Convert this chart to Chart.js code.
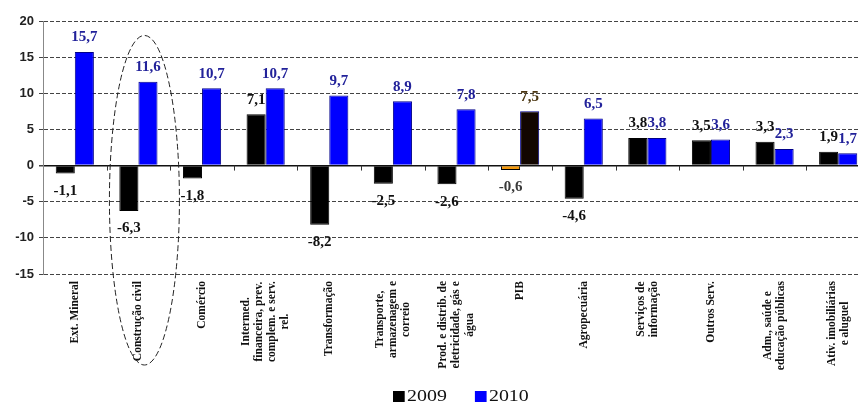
<!DOCTYPE html>
<html>
<head>
<meta charset="utf-8">
<script src="https://cdn.jsdelivr.net/npm/chart.js@4"></script>
<style>
  html, body { margin: 0; padding: 0; background: #fff; overflow: hidden; }
  #wrap { position: absolute; left: 0; top: 0; width: 872px; height: 406px; }
  #legend { position: absolute; left: 393px; top: 386px; font: 17px "Liberation Serif", serif; color: #111; white-space: nowrap; line-height: 20px; transform: scaleX(1.17); transform-origin: 0 0; }
  #legend span.item { display: inline-block; margin-right: 24px; }
  #legend i { display: inline-block; width: 10px; height: 11px; margin-right: 2px; vertical-align: -1px; }
</style>
</head>
<body>
<div id="wrap">
  <canvas id="c" width="872" height="406"></canvas>
  <div id="legend"></div>
</div>
<script>
// Sectors (x axis), multi-line where the label wraps
const categories = [
  "Ext. Mineral",
  "Construção civil",
  "Comércio",
  ["Intermed.", "financeira, prev.", "complem. e serv.", "rel."],
  "Transformação",
  ["Transporte,", "armazenagem e", "correio"],
  ["Prod. e distrib. de", "eletricidade, gás e", "água"],
  "PIB",
  "Agropecuária",
  ["Serviços de", "informação"],
  "Outros Serv.",
  ["Adm., saúde e", "educação públicas"],
  ["Ativ. imobiliárias", "e aluguel"]
];

// Growth rates (%)
const values2009 = [-1.1, -6.3, -1.8, 7.1, -8.2, -2.5, -2.6, -0.6, -4.6, 3.8, 3.5, 3.3, 1.9];
const values2010 = [15.7, 11.6, 10.7, 10.7, 9.7, 8.9, 7.8, 7.5, 6.5, 3.8, 3.6, 2.3, 1.7];

const yTicks = [-15, -10, -5, 0, 5, 10, 15, 20];
const seriesNames = ["2009", "2010"];

// Colours (PIB highlighted)
const PIB = categories.indexOf("PIB");
const fill2009 = categories.map((c, i) => i === PIB ? "#f59a0c" : "#000000");
const fill2010 = categories.map((c, i) => i === PIB ? "#120600" : "#0000ff");
const label2009 = categories.map((c, i) => i === PIB ? "#3a3a3a" : "#111111");
const label2010 = categories.map((c, i) => i === PIB ? "#4a3510" : "#22229a");

const fmt = v => v.toFixed(1).replace(".", ",");

function drawValueLabels(chart, dsIndex, colors) {
  const ctx = chart.ctx;
  const meta = chart.getDatasetMeta(dsIndex);
  const data = chart.data.datasets[dsIndex].data;
  ctx.save();
  ctx.font = "bold 15px 'Liberation Serif', serif";
  ctx.textAlign = "center";
  meta.data.forEach((bar, i) => {
    const v = data[i];
    ctx.fillStyle = colors[i];
    if (v >= 0) {
      ctx.textBaseline = "bottom";
      ctx.fillText(fmt(v), bar.x, bar.y - 7);
    } else {
      ctx.textBaseline = "top";
      ctx.fillText(fmt(v), bar.x, bar.y + 10);
    }
  });
  ctx.restore();
}

const valueLabels = {
  id: "valueLabels",
  // 2009 labels go under the 2010 bars, 2010 labels on top of everything
  beforeDatasetDraw(chart, args) {
    if (args.index === 1) drawValueLabels(chart, 0, label2009);
  },
  afterDatasetsDraw(chart) {
    drawValueLabels(chart, 1, label2010);
  }
};

// Centre the wrapped x labels on their category, lines centred on each other
const centredCategoryLabels = {
  id: "centredCategoryLabels",
  beforeDraw(chart) {
    const scale = chart.scales.x;
    if (!scale.getLabelItems) return;
    const items = scale.getLabelItems();
    const ctx = chart.ctx;
    const top = chart.chartArea.bottom + 7;
    items.forEach((item, i) => {
      const lines = Array.isArray(item.label) ? item.label : [item.label];
      ctx.save();
      ctx.font = item.font.string;
      const w = Math.max(...lines.map(l => ctx.measureText(l).width));
      ctx.restore();
      const lh = item.font.lineHeight;
      item.options.textAlign = "center";
      item.options.textBaseline = "middle";
      item.options.translation = [scale.getPixelForTick(i), top + w / 2];
      item.textOffset = -(lines.length - 1) * lh / 2;
    });
  }
};

const zeroTicks = {
  id: "zeroTicks",
  afterDatasetsDraw(chart) {
    const x = chart.scales.x, y = chart.scales.y;
    const y0 = y.getPixelForValue(0);
    const half = (x.getPixelForValue(1) - x.getPixelForValue(0)) / 2;
    const ctx = chart.ctx;
    ctx.save();
    ctx.strokeStyle = "#333";
    ctx.lineWidth = 1;
    ctx.beginPath();
    for (let i = 0; i < categories.length; i++) {
      const px = Math.round(x.getPixelForValue(i) + half) + 0.5;
      ctx.moveTo(px, y0);
      ctx.lineTo(px, y0 + 5);
    }
    ctx.stroke();
    ctx.restore();
  }
};

// Dashed ellipse highlighting "Construção civil"
const highlight = {
  id: "highlight",
  afterDraw(chart) {
    const x = chart.scales.x, y = chart.scales.y;
    const cx = x.getPixelForValue(1) + 6;
    const top = y.getPixelForValue(18);
    const bottom = chart.chartArea.bottom + 91;
    const ctx = chart.ctx;
    ctx.save();
    ctx.strokeStyle = "#222";
    ctx.lineWidth = 1;
    ctx.setLineDash([6, 3]);
    ctx.beginPath();
    ctx.ellipse(cx, (top + bottom) / 2, 35, (bottom - top) / 2, 0, 0, Math.PI * 2);
    ctx.stroke();
    ctx.restore();
  }
};

new Chart(document.getElementById("c"), {
  type: "bar",
  data: {
    labels: categories,
    datasets: [
      { label: seriesNames[0], data: values2009, backgroundColor: fill2009, borderColor: "#000", borderWidth: 1 },
      { label: seriesNames[1], data: values2010, backgroundColor: fill2010, borderColor: "#00008a", borderWidth: 1 }
    ]
  },
  options: {
    responsive: false,
    animation: false,
    devicePixelRatio: 1,
    categoryPercentage: 0.6,
    barPercentage: 1,
    layout: { padding: { top: 21, left: 0, right: 2, bottom: 0 } },
    plugins: {
      legend: { display: false },
      tooltip: { enabled: false }
    },
    scales: {
      x: {
        grid: { display: false },
        border: { display: false },
        ticks: {
          autoSkip: false,
          maxRotation: 90,
          minRotation: 90,
          padding: 4,
          color: "#111",
          font: { family: "'Liberation Serif', serif", size: 11.5, weight: "bold", lineHeight: 1.15 }
        },
        afterFit(scale) { scale.height = 132; }
      },
      y: {
        min: -15,
        max: 20,
        afterBuildTicks(scale) { scale.ticks = yTicks.map(v => ({ value: v })); },
        afterFit(scale) { scale.width = 43; },
        ticks: {
          padding: 5,
          color: "#222",
          font: { family: "'Liberation Sans', sans-serif", size: 13, weight: "bold" }
        },
        grid: {
          color: c => (c.tick && c.tick.value === 0) ? "#111" : "#444",
          lineWidth: c => (c.tick && c.tick.value === 0) ? 1.5 : 1,
          tickLength: 4,
          tickColor: "#444"
        },
        border: {
          display: true,
          color: "#888",
          width: 1,
          dash: c => (c.tick && c.tick.value === 0) ? [] : [4, 2]
        }
      }
    }
  },
  plugins: [centredCategoryLabels, valueLabels, zeroTicks, highlight]
});

// Legend
const legend = document.getElementById("legend");
[["#000000", seriesNames[0]], ["#0000ff", seriesNames[1]]].forEach(([col, name]) => {
  const s = document.createElement("span");
  s.className = "item";
  const box = document.createElement("i");
  box.style.background = col;
  s.appendChild(box);
  s.appendChild(document.createTextNode(name));
  legend.appendChild(s);
});
</script>
</body>
</html>
